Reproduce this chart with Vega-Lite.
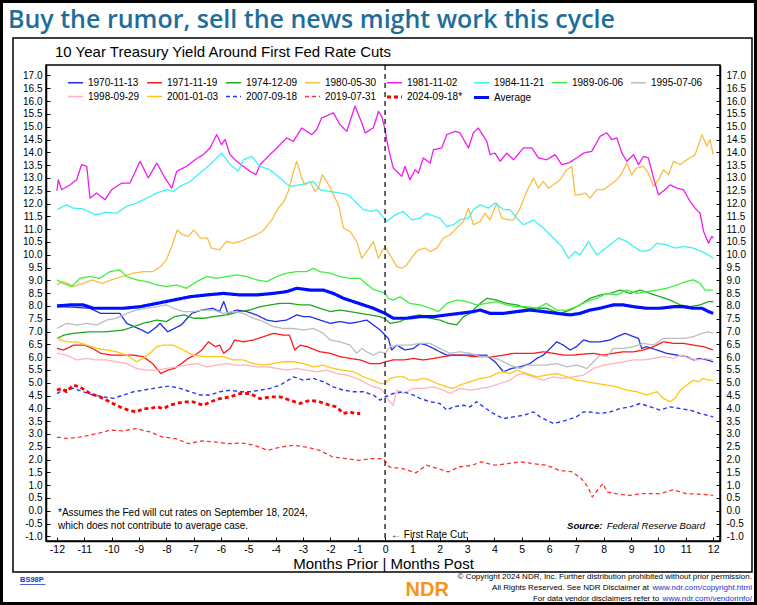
{
  "$schema": "https://vega.github.io/schema/vega-lite/v6.json",
  "width": 674,
  "height": 476,
  "autosize": {"type": "none"},
  "padding": {"left": 46, "top": 65, "right": 37, "bottom": 64},
  "background": "white",
  "config": {
    "font": "Liberation Sans",
    "view": {"stroke": "black", "strokeWidth": 1.5},
    "legend": {"orient": "none", "direction": "horizontal", "legendX": 20, "legendY": 9, "columns": 8, "symbolType": "stroke", "symbolSize": 225, "labelFontSize": 10, "labelFont": "Liberation Sans", "labelColor": "black", "columnPadding": 4, "rowPadding": -1, "labelOffset": 3, "padding": 0}
  },
  "resolve": {"axis": {"x": "independent", "y": "independent"}},
  "layer": [
    {
      "data": {"values": [
{"s":"1970-11-13","m":-12,"v":7.97},{"s":"1970-11-13","m":-11.4,"v":7.95},{"s":"1970-11-13","m":-10.8,"v":7.91},{"s":"1970-11-13","m":-10.4,"v":7.71},{"s":"1970-11-13","m":-9.7,"v":7.71},{"s":"1970-11-13","m":-9.45,"v":7.32},{"s":"1970-11-13","m":-8.9,"v":7.06},{"s":"1970-11-13","m":-8.67,"v":6.93},{"s":"1970-11-13","m":-8.35,"v":7.19},{"s":"1970-11-13","m":-8.23,"v":7.32},{"s":"1970-11-13","m":-7.95,"v":6.99},{"s":"1970-11-13","m":-7.45,"v":7.26},{"s":"1970-11-13","m":-7.07,"v":7.71},{"s":"1970-11-13","m":-6.7,"v":7.84},{"s":"1970-11-13","m":-6.3,"v":7.91},{"s":"1970-11-13","m":-6.05,"v":7.78},{"s":"1970-11-13","m":-5.9,"v":8.17},{"s":"1970-11-13","m":-5.75,"v":7.71},{"s":"1970-11-13","m":-5.43,"v":7.84},{"s":"1970-11-13","m":-5.06,"v":7.78},{"s":"1970-11-13","m":-4.7,"v":7.65},{"s":"1970-11-13","m":-4.33,"v":7.45},{"s":"1970-11-13","m":-4.0,"v":7.39},{"s":"1970-11-13","m":-3.6,"v":7.45},{"s":"1970-11-13","m":-3.23,"v":7.65},{"s":"1970-11-13","m":-2.98,"v":7.58},{"s":"1970-11-13","m":-2.74,"v":7.58},{"s":"1970-11-13","m":-2.38,"v":7.45},{"s":"1970-11-13","m":-2.0,"v":7.32},{"s":"1970-11-13","m":-1.65,"v":7.39},{"s":"1970-11-13","m":-1.28,"v":7.32},{"s":"1970-11-13","m":-0.91,"v":7.39},{"s":"1970-11-13","m":-0.67,"v":7.45},{"s":"1970-11-13","m":-0.43,"v":7.26},{"s":"1970-11-13","m":-0.18,"v":7.06},{"s":"1970-11-13","m":0,"v":6.86},{"s":"1970-11-13","m":0.12,"v":6.73},{"s":"1970-11-13","m":0.24,"v":6.28},{"s":"1970-11-13","m":0.43,"v":6.47},{"s":"1970-11-13","m":0.73,"v":6.28},{"s":"1970-11-13","m":1.04,"v":6.34},{"s":"1970-11-13","m":1.28,"v":6.54},{"s":"1970-11-13","m":1.52,"v":6.47},{"s":"1970-11-13","m":1.77,"v":6.34},{"s":"1970-11-13","m":2.0,"v":6.21},{"s":"1970-11-13","m":2.26,"v":6.08},{"s":"1970-11-13","m":2.62,"v":6.08},{"s":"1970-11-13","m":2.98,"v":6.08},{"s":"1970-11-13","m":3.35,"v":6.08},{"s":"1970-11-13","m":3.7,"v":6.08},{"s":"1970-11-13","m":4.02,"v":5.82},{"s":"1970-11-13","m":4.33,"v":5.43},{"s":"1970-11-13","m":4.63,"v":5.56},{"s":"1970-11-13","m":4.94,"v":5.62},{"s":"1970-11-13","m":5.3,"v":5.75},{"s":"1970-11-13","m":5.55,"v":5.95},{"s":"1970-11-13","m":5.79,"v":6.08},{"s":"1970-11-13","m":6.04,"v":6.34},{"s":"1970-11-13","m":6.28,"v":6.6},{"s":"1970-11-13","m":6.52,"v":6.47},{"s":"1970-11-13","m":6.77,"v":6.28},{"s":"1970-11-13","m":7.0,"v":6.41},{"s":"1970-11-13","m":7.26,"v":6.67},{"s":"1970-11-13","m":7.5,"v":6.6},{"s":"1970-11-13","m":7.87,"v":6.6},{"s":"1970-11-13","m":8.23,"v":6.67},{"s":"1970-11-13","m":8.48,"v":6.8},{"s":"1970-11-13","m":8.78,"v":6.93},{"s":"1970-11-13","m":9.09,"v":6.8},{"s":"1970-11-13","m":9.27,"v":6.73},{"s":"1970-11-13","m":9.39,"v":6.34},{"s":"1970-11-13","m":9.57,"v":6.41},{"s":"1970-11-13","m":9.94,"v":6.28},{"s":"1970-11-13","m":10.3,"v":6.15},{"s":"1970-11-13","m":10.67,"v":6.08},{"s":"1970-11-13","m":11.04,"v":6.02},{"s":"1970-11-13","m":11.28,"v":5.89},{"s":"1970-11-13","m":11.52,"v":5.95},{"s":"1970-11-13","m":11.77,"v":5.89},{"s":"1970-11-13","m":12,"v":5.82},
{"s":"1971-11-19","m":-12,"v":6.34},{"s":"1971-11-19","m":-11.75,"v":6.28},{"s":"1971-11-19","m":-11.4,"v":6.47},{"s":"1971-11-19","m":-11.0,"v":6.47},{"s":"1971-11-19","m":-10.7,"v":6.34},{"s":"1971-11-19","m":-10.4,"v":6.15},{"s":"1971-11-19","m":-10.0,"v":6.08},{"s":"1971-11-19","m":-9.57,"v":6.08},{"s":"1971-11-19","m":-9.2,"v":6.08},{"s":"1971-11-19","m":-8.85,"v":6.02},{"s":"1971-11-19","m":-8.5,"v":5.75},{"s":"1971-11-19","m":-8.2,"v":5.36},{"s":"1971-11-19","m":-7.95,"v":5.49},{"s":"1971-11-19","m":-7.7,"v":5.56},{"s":"1971-11-19","m":-7.45,"v":5.75},{"s":"1971-11-19","m":-7.2,"v":5.95},{"s":"1971-11-19","m":-6.95,"v":6.08},{"s":"1971-11-19","m":-6.7,"v":6.28},{"s":"1971-11-19","m":-6.46,"v":6.6},{"s":"1971-11-19","m":-6.2,"v":6.41},{"s":"1971-11-19","m":-6.05,"v":6.47},{"s":"1971-11-19","m":-5.9,"v":6.15},{"s":"1971-11-19","m":-5.67,"v":6.34},{"s":"1971-11-19","m":-5.5,"v":6.67},{"s":"1971-11-19","m":-5.18,"v":6.6},{"s":"1971-11-19","m":-4.82,"v":6.67},{"s":"1971-11-19","m":-4.45,"v":6.8},{"s":"1971-11-19","m":-4.08,"v":6.93},{"s":"1971-11-19","m":-3.72,"v":6.86},{"s":"1971-11-19","m":-3.5,"v":6.86},{"s":"1971-11-19","m":-3.3,"v":6.28},{"s":"1971-11-19","m":-3.1,"v":6.47},{"s":"1971-11-19","m":-2.85,"v":6.41},{"s":"1971-11-19","m":-2.38,"v":6.21},{"s":"1971-11-19","m":-2.0,"v":6.15},{"s":"1971-11-19","m":-1.65,"v":6.02},{"s":"1971-11-19","m":-1.28,"v":5.95},{"s":"1971-11-19","m":-0.91,"v":5.89},{"s":"1971-11-19","m":-0.55,"v":5.75},{"s":"1971-11-19","m":-0.18,"v":5.75},{"s":"1971-11-19","m":0,"v":5.82},{"s":"1971-11-19","m":0.3,"v":5.89},{"s":"1971-11-19","m":0.67,"v":5.89},{"s":"1971-11-19","m":1.04,"v":5.95},{"s":"1971-11-19","m":1.4,"v":5.89},{"s":"1971-11-19","m":1.77,"v":5.95},{"s":"1971-11-19","m":2.13,"v":6.02},{"s":"1971-11-19","m":2.5,"v":6.08},{"s":"1971-11-19","m":2.87,"v":6.08},{"s":"1971-11-19","m":3.23,"v":6.02},{"s":"1971-11-19","m":3.6,"v":6.02},{"s":"1971-11-19","m":3.96,"v":6.02},{"s":"1971-11-19","m":4.33,"v":6.08},{"s":"1971-11-19","m":4.7,"v":6.15},{"s":"1971-11-19","m":5.06,"v":6.15},{"s":"1971-11-19","m":5.43,"v":6.15},{"s":"1971-11-19","m":5.79,"v":6.21},{"s":"1971-11-19","m":6.16,"v":6.15},{"s":"1971-11-19","m":6.52,"v":6.08},{"s":"1971-11-19","m":6.89,"v":6.08},{"s":"1971-11-19","m":7.26,"v":6.12},{"s":"1971-11-19","m":7.62,"v":6.15},{"s":"1971-11-19","m":7.99,"v":6.08},{"s":"1971-11-19","m":8.35,"v":6.15},{"s":"1971-11-19","m":8.72,"v":6.21},{"s":"1971-11-19","m":9.09,"v":6.21},{"s":"1971-11-19","m":9.45,"v":6.28},{"s":"1971-11-19","m":9.82,"v":6.41},{"s":"1971-11-19","m":10.18,"v":6.6},{"s":"1971-11-19","m":10.55,"v":6.54},{"s":"1971-11-19","m":10.91,"v":6.54},{"s":"1971-11-19","m":11.28,"v":6.47},{"s":"1971-11-19","m":11.65,"v":6.41},{"s":"1971-11-19","m":12,"v":6.28},
{"s":"1974-12-09","m":-12,"v":6.73},{"s":"1974-12-09","m":-11.75,"v":6.86},{"s":"1974-12-09","m":-11.4,"v":6.93},{"s":"1974-12-09","m":-10.8,"v":6.99},{"s":"1974-12-09","m":-10.2,"v":6.99},{"s":"1974-12-09","m":-9.57,"v":7.06},{"s":"1974-12-09","m":-9.2,"v":7.19},{"s":"1974-12-09","m":-8.85,"v":7.32},{"s":"1974-12-09","m":-8.35,"v":7.45},{"s":"1974-12-09","m":-8.0,"v":7.39},{"s":"1974-12-09","m":-7.7,"v":7.58},{"s":"1974-12-09","m":-7.35,"v":7.65},{"s":"1974-12-09","m":-7.0,"v":7.52},{"s":"1974-12-09","m":-6.6,"v":7.52},{"s":"1974-12-09","m":-6.3,"v":7.58},{"s":"1974-12-09","m":-5.8,"v":7.65},{"s":"1974-12-09","m":-5.3,"v":7.78},{"s":"1974-12-09","m":-4.95,"v":7.84},{"s":"1974-12-09","m":-4.57,"v":7.97},{"s":"1974-12-09","m":-4.2,"v":8.04},{"s":"1974-12-09","m":-3.84,"v":8.1},{"s":"1974-12-09","m":-3.47,"v":8.1},{"s":"1974-12-09","m":-3.11,"v":8.04},{"s":"1974-12-09","m":-2.74,"v":8.04},{"s":"1974-12-09","m":-2.38,"v":7.91},{"s":"1974-12-09","m":-2.0,"v":7.78},{"s":"1974-12-09","m":-1.65,"v":7.84},{"s":"1974-12-09","m":-1.28,"v":7.78},{"s":"1974-12-09","m":-0.91,"v":7.71},{"s":"1974-12-09","m":-0.55,"v":7.65},{"s":"1974-12-09","m":-0.18,"v":7.58},{"s":"1974-12-09","m":0,"v":7.5},{"s":"1974-12-09","m":0.18,"v":7.32},{"s":"1974-12-09","m":0.55,"v":7.39},{"s":"1974-12-09","m":0.9,"v":7.58},{"s":"1974-12-09","m":1.28,"v":7.65},{"s":"1974-12-09","m":1.65,"v":7.52},{"s":"1974-12-09","m":2.0,"v":7.45},{"s":"1974-12-09","m":2.32,"v":7.32},{"s":"1974-12-09","m":2.62,"v":7.26},{"s":"1974-12-09","m":2.87,"v":7.58},{"s":"1974-12-09","m":3.11,"v":7.71},{"s":"1974-12-09","m":3.48,"v":8.1},{"s":"1974-12-09","m":3.72,"v":8.3},{"s":"1974-12-09","m":4.08,"v":8.23},{"s":"1974-12-09","m":4.45,"v":8.1},{"s":"1974-12-09","m":4.82,"v":8.04},{"s":"1974-12-09","m":5.18,"v":7.91},{"s":"1974-12-09","m":5.55,"v":7.91},{"s":"1974-12-09","m":5.9,"v":7.91},{"s":"1974-12-09","m":6.4,"v":7.71},{"s":"1974-12-09","m":6.77,"v":7.84},{"s":"1974-12-09","m":7.13,"v":8.04},{"s":"1974-12-09","m":7.5,"v":8.3},{"s":"1974-12-09","m":7.87,"v":8.43},{"s":"1974-12-09","m":8.23,"v":8.49},{"s":"1974-12-09","m":8.6,"v":8.62},{"s":"1974-12-09","m":8.96,"v":8.49},{"s":"1974-12-09","m":9.33,"v":8.62},{"s":"1974-12-09","m":9.7,"v":8.49},{"s":"1974-12-09","m":10.06,"v":8.36},{"s":"1974-12-09","m":10.43,"v":8.23},{"s":"1974-12-09","m":10.8,"v":8.04},{"s":"1974-12-09","m":11.16,"v":7.97},{"s":"1974-12-09","m":11.52,"v":8.04},{"s":"1974-12-09","m":11.83,"v":8.17},{"s":"1974-12-09","m":12,"v":8.17},
{"s":"1980-05-30","m":-12,"v":8.82},{"s":"1980-05-30","m":-11.8,"v":8.95},{"s":"1980-05-30","m":-11.6,"v":8.88},{"s":"1980-05-30","m":-11.4,"v":8.76},{"s":"1980-05-30","m":-11.05,"v":8.88},{"s":"1980-05-30","m":-10.7,"v":9.02},{"s":"1980-05-30","m":-10.35,"v":8.88},{"s":"1980-05-30","m":-10.0,"v":9.02},{"s":"1980-05-30","m":-9.6,"v":9.15},{"s":"1980-05-30","m":-9.2,"v":9.28},{"s":"1980-05-30","m":-8.85,"v":9.34},{"s":"1980-05-30","m":-8.5,"v":9.34},{"s":"1980-05-30","m":-8.2,"v":9.54},{"s":"1980-05-30","m":-8.0,"v":9.8},{"s":"1980-05-30","m":-7.8,"v":10.32},{"s":"1980-05-30","m":-7.6,"v":10.97},{"s":"1980-05-30","m":-7.4,"v":10.78},{"s":"1980-05-30","m":-7.2,"v":10.71},{"s":"1980-05-30","m":-7.0,"v":10.97},{"s":"1980-05-30","m":-6.75,"v":10.65},{"s":"1980-05-30","m":-6.5,"v":10.65},{"s":"1980-05-30","m":-6.35,"v":10.26},{"s":"1980-05-30","m":-6.05,"v":10.19},{"s":"1980-05-30","m":-5.8,"v":10.52},{"s":"1980-05-30","m":-5.55,"v":10.45},{"s":"1980-05-30","m":-5.3,"v":10.52},{"s":"1980-05-30","m":-5.0,"v":10.65},{"s":"1980-05-30","m":-4.7,"v":10.78},{"s":"1980-05-30","m":-4.5,"v":10.91},{"s":"1980-05-30","m":-4.33,"v":11.1},{"s":"1980-05-30","m":-4.1,"v":11.43},{"s":"1980-05-30","m":-3.9,"v":11.82},{"s":"1980-05-30","m":-3.7,"v":12.08},{"s":"1980-05-30","m":-3.54,"v":12.47},{"s":"1980-05-30","m":-3.35,"v":13.26},{"s":"1980-05-30","m":-3.23,"v":13.65},{"s":"1980-05-30","m":-3.05,"v":13.0},{"s":"1980-05-30","m":-2.93,"v":12.73},{"s":"1980-05-30","m":-2.74,"v":12.86},{"s":"1980-05-30","m":-2.56,"v":12.47},{"s":"1980-05-30","m":-2.44,"v":12.6},{"s":"1980-05-30","m":-2.3,"v":13.13},{"s":"1980-05-30","m":-2.17,"v":12.93},{"s":"1980-05-30","m":-2.0,"v":12.6},{"s":"1980-05-30","m":-1.83,"v":12.21},{"s":"1980-05-30","m":-1.7,"v":11.95},{"s":"1980-05-30","m":-1.52,"v":11.04},{"s":"1980-05-30","m":-1.28,"v":10.91},{"s":"1980-05-30","m":-1.04,"v":10.52},{"s":"1980-05-30","m":-0.85,"v":9.86},{"s":"1980-05-30","m":-0.67,"v":10.12},{"s":"1980-05-30","m":-0.43,"v":10.52},{"s":"1980-05-30","m":-0.24,"v":9.86},{"s":"1980-05-30","m":-0.12,"v":10.12},{"s":"1980-05-30","m":0,"v":10.32},{"s":"1980-05-30","m":0.18,"v":9.99},{"s":"1980-05-30","m":0.43,"v":9.54},{"s":"1980-05-30","m":0.61,"v":9.47},{"s":"1980-05-30","m":0.79,"v":9.6},{"s":"1980-05-30","m":1.04,"v":9.99},{"s":"1980-05-30","m":1.22,"v":10.19},{"s":"1980-05-30","m":1.46,"v":10.26},{"s":"1980-05-30","m":1.65,"v":10.12},{"s":"1980-05-30","m":1.89,"v":10.26},{"s":"1980-05-30","m":2.13,"v":10.65},{"s":"1980-05-30","m":2.38,"v":10.78},{"s":"1980-05-30","m":2.62,"v":11.04},{"s":"1980-05-30","m":2.87,"v":11.3},{"s":"1980-05-30","m":3.05,"v":11.82},{"s":"1980-05-30","m":3.23,"v":11.17},{"s":"1980-05-30","m":3.48,"v":11.3},{"s":"1980-05-30","m":3.66,"v":11.62},{"s":"1980-05-30","m":3.84,"v":11.36},{"s":"1980-05-30","m":4.08,"v":12.02},{"s":"1980-05-30","m":4.27,"v":11.43},{"s":"1980-05-30","m":4.51,"v":11.36},{"s":"1980-05-30","m":4.7,"v":11.36},{"s":"1980-05-30","m":4.94,"v":11.82},{"s":"1980-05-30","m":5.18,"v":12.47},{"s":"1980-05-30","m":5.43,"v":12.99},{"s":"1980-05-30","m":5.61,"v":12.6},{"s":"1980-05-30","m":5.79,"v":12.86},{"s":"1980-05-30","m":5.98,"v":12.6},{"s":"1980-05-30","m":6.16,"v":12.73},{"s":"1980-05-30","m":6.4,"v":12.93},{"s":"1980-05-30","m":6.65,"v":13.32},{"s":"1980-05-30","m":6.83,"v":13.45},{"s":"1980-05-30","m":6.95,"v":12.34},{"s":"1980-05-30","m":7.13,"v":12.34},{"s":"1980-05-30","m":7.32,"v":12.41},{"s":"1980-05-30","m":7.5,"v":12.21},{"s":"1980-05-30","m":7.74,"v":12.54},{"s":"1980-05-30","m":7.99,"v":12.54},{"s":"1980-05-30","m":8.23,"v":12.73},{"s":"1980-05-30","m":8.48,"v":12.93},{"s":"1980-05-30","m":8.66,"v":13.19},{"s":"1980-05-30","m":8.84,"v":13.58},{"s":"1980-05-30","m":9.02,"v":13.13},{"s":"1980-05-30","m":9.2,"v":13.39},{"s":"1980-05-30","m":9.45,"v":13.45},{"s":"1980-05-30","m":9.63,"v":13.19},{"s":"1980-05-30","m":9.82,"v":12.67},{"s":"1980-05-30","m":10.0,"v":12.93},{"s":"1980-05-30","m":10.18,"v":13.32},{"s":"1980-05-30","m":10.37,"v":13.13},{"s":"1980-05-30","m":10.55,"v":13.65},{"s":"1980-05-30","m":10.79,"v":13.52},{"s":"1980-05-30","m":11.04,"v":13.71},{"s":"1980-05-30","m":11.34,"v":13.91},{"s":"1980-05-30","m":11.59,"v":14.69},{"s":"1980-05-30","m":11.77,"v":14.24},{"s":"1980-05-30","m":11.89,"v":14.5},{"s":"1980-05-30","m":12,"v":13.91},
{"s":"1981-11-02","m":-12,"v":12.5},{"s":"1981-11-02","m":-11.95,"v":12.93},{"s":"1981-11-02","m":-11.83,"v":12.54},{"s":"1981-11-02","m":-11.52,"v":12.73},{"s":"1981-11-02","m":-11.28,"v":12.93},{"s":"1981-11-02","m":-11.1,"v":13.52},{"s":"1981-11-02","m":-10.91,"v":13.45},{"s":"1981-11-02","m":-10.79,"v":12.21},{"s":"1981-11-02","m":-10.55,"v":12.41},{"s":"1981-11-02","m":-10.24,"v":12.15},{"s":"1981-11-02","m":-10.0,"v":12.54},{"s":"1981-11-02","m":-9.63,"v":12.8},{"s":"1981-11-02","m":-9.33,"v":12.8},{"s":"1981-11-02","m":-8.96,"v":13.65},{"s":"1981-11-02","m":-8.66,"v":13.0},{"s":"1981-11-02","m":-8.35,"v":13.58},{"s":"1981-11-02","m":-8.05,"v":13.0},{"s":"1981-11-02","m":-7.8,"v":12.6},{"s":"1981-11-02","m":-7.62,"v":13.26},{"s":"1981-11-02","m":-7.26,"v":13.45},{"s":"1981-11-02","m":-6.95,"v":13.71},{"s":"1981-11-02","m":-6.65,"v":13.91},{"s":"1981-11-02","m":-6.4,"v":14.17},{"s":"1981-11-02","m":-6.16,"v":14.69},{"s":"1981-11-02","m":-5.98,"v":14.3},{"s":"1981-11-02","m":-5.85,"v":14.5},{"s":"1981-11-02","m":-5.67,"v":13.91},{"s":"1981-11-02","m":-5.43,"v":13.65},{"s":"1981-11-02","m":-5.18,"v":13.45},{"s":"1981-11-02","m":-4.94,"v":13.26},{"s":"1981-11-02","m":-4.72,"v":13.13},{"s":"1981-11-02","m":-4.57,"v":13.52},{"s":"1981-11-02","m":-4.21,"v":13.91},{"s":"1981-11-02","m":-3.96,"v":14.17},{"s":"1981-11-02","m":-3.6,"v":14.56},{"s":"1981-11-02","m":-3.35,"v":14.43},{"s":"1981-11-02","m":-3.05,"v":14.95},{"s":"1981-11-02","m":-2.87,"v":14.82},{"s":"1981-11-02","m":-2.68,"v":14.69},{"s":"1981-11-02","m":-2.5,"v":14.89},{"s":"1981-11-02","m":-2.32,"v":15.34},{"s":"1981-11-02","m":-1.89,"v":15.54},{"s":"1981-11-02","m":-1.65,"v":15.08},{"s":"1981-11-02","m":-1.4,"v":14.82},{"s":"1981-11-02","m":-1.1,"v":15.8},{"s":"1981-11-02","m":-0.85,"v":15.15},{"s":"1981-11-02","m":-0.73,"v":14.76},{"s":"1981-11-02","m":-0.43,"v":14.95},{"s":"1981-11-02","m":-0.24,"v":15.6},{"s":"1981-11-02","m":-0.12,"v":15.4},{"s":"1981-11-02","m":0,"v":14.9},{"s":"1981-11-02","m":0.06,"v":14.5},{"s":"1981-11-02","m":0.12,"v":14.17},{"s":"1981-11-02","m":0.3,"v":13.39},{"s":"1981-11-02","m":0.61,"v":13.06},{"s":"1981-11-02","m":0.73,"v":13.45},{"s":"1981-11-02","m":0.91,"v":12.93},{"s":"1981-11-02","m":1.1,"v":13.32},{"s":"1981-11-02","m":1.22,"v":13.19},{"s":"1981-11-02","m":1.4,"v":13.78},{"s":"1981-11-02","m":1.65,"v":13.58},{"s":"1981-11-02","m":1.77,"v":14.1},{"s":"1981-11-02","m":2.07,"v":14.17},{"s":"1981-11-02","m":2.26,"v":14.69},{"s":"1981-11-02","m":2.56,"v":14.82},{"s":"1981-11-02","m":2.74,"v":14.76},{"s":"1981-11-02","m":3.05,"v":14.17},{"s":"1981-11-02","m":3.23,"v":14.76},{"s":"1981-11-02","m":3.41,"v":14.95},{"s":"1981-11-02","m":3.72,"v":14.43},{"s":"1981-11-02","m":3.84,"v":13.91},{"s":"1981-11-02","m":4.02,"v":13.97},{"s":"1981-11-02","m":4.21,"v":13.65},{"s":"1981-11-02","m":4.45,"v":13.97},{"s":"1981-11-02","m":4.7,"v":13.71},{"s":"1981-11-02","m":5.06,"v":14.17},{"s":"1981-11-02","m":5.37,"v":14.17},{"s":"1981-11-02","m":5.61,"v":13.78},{"s":"1981-11-02","m":5.91,"v":13.71},{"s":"1981-11-02","m":6.22,"v":13.91},{"s":"1981-11-02","m":6.46,"v":13.52},{"s":"1981-11-02","m":6.71,"v":13.58},{"s":"1981-11-02","m":7.01,"v":13.78},{"s":"1981-11-02","m":7.26,"v":13.97},{"s":"1981-11-02","m":7.56,"v":14.04},{"s":"1981-11-02","m":7.87,"v":14.63},{"s":"1981-11-02","m":8.11,"v":14.76},{"s":"1981-11-02","m":8.29,"v":14.5},{"s":"1981-11-02","m":8.48,"v":14.56},{"s":"1981-11-02","m":8.66,"v":13.97},{"s":"1981-11-02","m":8.84,"v":13.65},{"s":"1981-11-02","m":9.09,"v":13.91},{"s":"1981-11-02","m":9.27,"v":13.52},{"s":"1981-11-02","m":9.45,"v":13.84},{"s":"1981-11-02","m":9.63,"v":13.78},{"s":"1981-11-02","m":9.82,"v":12.99},{"s":"1981-11-02","m":10.0,"v":12.34},{"s":"1981-11-02","m":10.24,"v":12.54},{"s":"1981-11-02","m":10.43,"v":12.73},{"s":"1981-11-02","m":10.67,"v":12.6},{"s":"1981-11-02","m":10.91,"v":12.54},{"s":"1981-11-02","m":11.16,"v":12.08},{"s":"1981-11-02","m":11.34,"v":11.82},{"s":"1981-11-02","m":11.52,"v":11.62},{"s":"1981-11-02","m":11.65,"v":10.91},{"s":"1981-11-02","m":11.83,"v":10.45},{"s":"1981-11-02","m":11.95,"v":10.71},{"s":"1981-11-02","m":12,"v":10.65},
{"s":"1984-11-21","m":-12,"v":11.76},{"s":"1984-11-21","m":-11.65,"v":11.95},{"s":"1984-11-21","m":-11.4,"v":11.82},{"s":"1984-11-21","m":-11.04,"v":11.79},{"s":"1984-11-21","m":-10.6,"v":11.56},{"s":"1984-11-21","m":-10.2,"v":11.66},{"s":"1984-11-21","m":-9.82,"v":11.62},{"s":"1984-11-21","m":-9.45,"v":11.89},{"s":"1984-11-21","m":-9.08,"v":12.02},{"s":"1984-11-21","m":-8.72,"v":12.21},{"s":"1984-11-21","m":-8.35,"v":12.41},{"s":"1984-11-21","m":-7.99,"v":12.54},{"s":"1984-11-21","m":-7.74,"v":12.47},{"s":"1984-11-21","m":-7.5,"v":12.67},{"s":"1984-11-21","m":-7.13,"v":12.86},{"s":"1984-11-21","m":-6.77,"v":13.19},{"s":"1984-11-21","m":-6.4,"v":13.52},{"s":"1984-11-21","m":-5.98,"v":13.97},{"s":"1984-11-21","m":-5.67,"v":13.52},{"s":"1984-11-21","m":-5.37,"v":13.26},{"s":"1984-11-21","m":-5.18,"v":13.71},{"s":"1984-11-21","m":-4.88,"v":13.84},{"s":"1984-11-21","m":-4.57,"v":13.45},{"s":"1984-11-21","m":-4.21,"v":13.32},{"s":"1984-11-21","m":-3.84,"v":12.99},{"s":"1984-11-21","m":-3.48,"v":12.67},{"s":"1984-11-21","m":-3.11,"v":12.73},{"s":"1984-11-21","m":-2.87,"v":12.8},{"s":"1984-11-21","m":-2.62,"v":12.86},{"s":"1984-11-21","m":-2.38,"v":12.54},{"s":"1984-11-21","m":-2.01,"v":12.47},{"s":"1984-11-21","m":-1.65,"v":12.41},{"s":"1984-11-21","m":-1.34,"v":12.34},{"s":"1984-11-21","m":-1.04,"v":12.02},{"s":"1984-11-21","m":-0.79,"v":11.76},{"s":"1984-11-21","m":-0.49,"v":11.69},{"s":"1984-11-21","m":-0.3,"v":11.76},{"s":"1984-11-21","m":0,"v":11.37},{"s":"1984-11-21","m":0.06,"v":11.3},{"s":"1984-11-21","m":0.37,"v":11.56},{"s":"1984-11-21","m":0.67,"v":11.69},{"s":"1984-11-21","m":0.98,"v":11.36},{"s":"1984-11-21","m":1.28,"v":11.43},{"s":"1984-11-21","m":1.52,"v":11.62},{"s":"1984-11-21","m":1.83,"v":11.49},{"s":"1984-11-21","m":2.0,"v":11.43},{"s":"1984-11-21","m":2.26,"v":11.1},{"s":"1984-11-21","m":2.5,"v":11.17},{"s":"1984-11-21","m":2.74,"v":11.36},{"s":"1984-11-21","m":3.05,"v":11.43},{"s":"1984-11-21","m":3.23,"v":11.76},{"s":"1984-11-21","m":3.48,"v":11.95},{"s":"1984-11-21","m":3.78,"v":11.82},{"s":"1984-11-21","m":4.02,"v":12.02},{"s":"1984-11-21","m":4.33,"v":11.76},{"s":"1984-11-21","m":4.57,"v":11.76},{"s":"1984-11-21","m":4.82,"v":11.43},{"s":"1984-11-21","m":5.06,"v":11.17},{"s":"1984-11-21","m":5.43,"v":11.36},{"s":"1984-11-21","m":5.79,"v":11.04},{"s":"1984-11-21","m":6.16,"v":10.65},{"s":"1984-11-21","m":6.46,"v":10.32},{"s":"1984-11-21","m":6.71,"v":9.86},{"s":"1984-11-21","m":6.95,"v":10.12},{"s":"1984-11-21","m":7.13,"v":9.99},{"s":"1984-11-21","m":7.44,"v":10.52},{"s":"1984-11-21","m":7.74,"v":9.99},{"s":"1984-11-21","m":7.99,"v":10.19},{"s":"1984-11-21","m":8.23,"v":10.39},{"s":"1984-11-21","m":8.54,"v":10.65},{"s":"1984-11-21","m":8.84,"v":10.52},{"s":"1984-11-21","m":9.09,"v":10.32},{"s":"1984-11-21","m":9.39,"v":10.12},{"s":"1984-11-21","m":9.7,"v":10.19},{"s":"1984-11-21","m":9.94,"v":10.45},{"s":"1984-11-21","m":10.3,"v":10.39},{"s":"1984-11-21","m":10.61,"v":10.26},{"s":"1984-11-21","m":10.91,"v":10.32},{"s":"1984-11-21","m":11.28,"v":10.26},{"s":"1984-11-21","m":11.59,"v":10.12},{"s":"1984-11-21","m":11.83,"v":9.99},{"s":"1984-11-21","m":12,"v":9.86},
{"s":"1989-06-06","m":-12,"v":9.02},{"s":"1989-06-06","m":-11.77,"v":8.88},{"s":"1989-06-06","m":-11.46,"v":8.76},{"s":"1989-06-06","m":-11.16,"v":9.08},{"s":"1989-06-06","m":-10.79,"v":9.15},{"s":"1989-06-06","m":-10.43,"v":9.08},{"s":"1989-06-06","m":-10.06,"v":9.34},{"s":"1989-06-06","m":-9.7,"v":9.41},{"s":"1989-06-06","m":-9.45,"v":9.15},{"s":"1989-06-06","m":-9.09,"v":9.02},{"s":"1989-06-06","m":-8.72,"v":8.95},{"s":"1989-06-06","m":-8.35,"v":8.82},{"s":"1989-06-06","m":-7.99,"v":8.76},{"s":"1989-06-06","m":-7.62,"v":8.82},{"s":"1989-06-06","m":-7.26,"v":8.69},{"s":"1989-06-06","m":-6.89,"v":8.95},{"s":"1989-06-06","m":-6.52,"v":9.15},{"s":"1989-06-06","m":-6.16,"v":9.08},{"s":"1989-06-06","m":-5.79,"v":9.15},{"s":"1989-06-06","m":-5.43,"v":9.21},{"s":"1989-06-06","m":-5.06,"v":9.15},{"s":"1989-06-06","m":-4.7,"v":9.02},{"s":"1989-06-06","m":-4.33,"v":8.95},{"s":"1989-06-06","m":-3.96,"v":9.15},{"s":"1989-06-06","m":-3.6,"v":9.28},{"s":"1989-06-06","m":-3.23,"v":9.34},{"s":"1989-06-06","m":-2.87,"v":9.34},{"s":"1989-06-06","m":-2.62,"v":9.47},{"s":"1989-06-06","m":-2.38,"v":9.34},{"s":"1989-06-06","m":-2.01,"v":9.28},{"s":"1989-06-06","m":-1.65,"v":9.15},{"s":"1989-06-06","m":-1.28,"v":9.08},{"s":"1989-06-06","m":-0.91,"v":9.08},{"s":"1989-06-06","m":-0.73,"v":8.9},{"s":"1989-06-06","m":-0.43,"v":8.65},{"s":"1989-06-06","m":-0.18,"v":8.56},{"s":"1989-06-06","m":0,"v":8.49},{"s":"1989-06-06","m":0.12,"v":8.3},{"s":"1989-06-06","m":0.3,"v":8.23},{"s":"1989-06-06","m":0.55,"v":8.36},{"s":"1989-06-06","m":0.9,"v":8.1},{"s":"1989-06-06","m":1.28,"v":8.04},{"s":"1989-06-06","m":1.65,"v":7.91},{"s":"1989-06-06","m":1.95,"v":7.78},{"s":"1989-06-06","m":2.26,"v":8.1},{"s":"1989-06-06","m":2.62,"v":8.23},{"s":"1989-06-06","m":2.98,"v":8.17},{"s":"1989-06-06","m":3.35,"v":8.04},{"s":"1989-06-06","m":3.72,"v":8.1},{"s":"1989-06-06","m":4.08,"v":8.17},{"s":"1989-06-06","m":4.45,"v":8.04},{"s":"1989-06-06","m":4.82,"v":7.97},{"s":"1989-06-06","m":5.18,"v":7.97},{"s":"1989-06-06","m":5.55,"v":7.91},{"s":"1989-06-06","m":5.9,"v":8.1},{"s":"1989-06-06","m":6.28,"v":7.84},{"s":"1989-06-06","m":6.65,"v":7.84},{"s":"1989-06-06","m":7.0,"v":7.97},{"s":"1989-06-06","m":7.38,"v":8.17},{"s":"1989-06-06","m":7.74,"v":8.3},{"s":"1989-06-06","m":8.11,"v":8.49},{"s":"1989-06-06","m":8.48,"v":8.43},{"s":"1989-06-06","m":8.84,"v":8.62},{"s":"1989-06-06","m":9.2,"v":8.49},{"s":"1989-06-06","m":9.57,"v":8.56},{"s":"1989-06-06","m":9.94,"v":8.62},{"s":"1989-06-06","m":10.3,"v":8.69},{"s":"1989-06-06","m":10.67,"v":8.82},{"s":"1989-06-06","m":11.0,"v":8.95},{"s":"1989-06-06","m":11.28,"v":9.02},{"s":"1989-06-06","m":11.52,"v":8.88},{"s":"1989-06-06","m":11.7,"v":8.62},{"s":"1989-06-06","m":12,"v":8.62},
{"s":"1995-07-06","m":-12,"v":7.12},{"s":"1995-07-06","m":-11.65,"v":7.32},{"s":"1995-07-06","m":-11.28,"v":7.25},{"s":"1995-07-06","m":-10.91,"v":7.32},{"s":"1995-07-06","m":-10.55,"v":7.25},{"s":"1995-07-06","m":-10.18,"v":7.45},{"s":"1995-07-06","m":-9.82,"v":7.52},{"s":"1995-07-06","m":-9.45,"v":7.71},{"s":"1995-07-06","m":-9.09,"v":7.84},{"s":"1995-07-06","m":-8.72,"v":7.91},{"s":"1995-07-06","m":-8.35,"v":7.97},{"s":"1995-07-06","m":-7.99,"v":8.04},{"s":"1995-07-06","m":-7.74,"v":7.91},{"s":"1995-07-06","m":-7.38,"v":7.78},{"s":"1995-07-06","m":-7.01,"v":7.78},{"s":"1995-07-06","m":-6.65,"v":7.84},{"s":"1995-07-06","m":-6.28,"v":7.84},{"s":"1995-07-06","m":-5.91,"v":7.71},{"s":"1995-07-06","m":-5.55,"v":7.78},{"s":"1995-07-06","m":-5.18,"v":7.71},{"s":"1995-07-06","m":-4.82,"v":7.52},{"s":"1995-07-06","m":-4.45,"v":7.39},{"s":"1995-07-06","m":-4.09,"v":7.19},{"s":"1995-07-06","m":-3.72,"v":7.12},{"s":"1995-07-06","m":-3.35,"v":7.12},{"s":"1995-07-06","m":-2.99,"v":7.06},{"s":"1995-07-06","m":-2.62,"v":7.12},{"s":"1995-07-06","m":-2.26,"v":6.93},{"s":"1995-07-06","m":-2.01,"v":6.67},{"s":"1995-07-06","m":-1.65,"v":6.6},{"s":"1995-07-06","m":-1.28,"v":6.47},{"s":"1995-07-06","m":-1.04,"v":6.15},{"s":"1995-07-06","m":-0.85,"v":6.34},{"s":"1995-07-06","m":-0.67,"v":6.21},{"s":"1995-07-06","m":-0.43,"v":6.08},{"s":"1995-07-06","m":-0.18,"v":6.21},{"s":"1995-07-06","m":0,"v":6.15},{"s":"1995-07-06","m":0.18,"v":6.41},{"s":"1995-07-06","m":0.55,"v":6.47},{"s":"1995-07-06","m":0.9,"v":6.47},{"s":"1995-07-06","m":1.28,"v":6.54},{"s":"1995-07-06","m":1.65,"v":6.54},{"s":"1995-07-06","m":2.0,"v":6.34},{"s":"1995-07-06","m":2.38,"v":6.15},{"s":"1995-07-06","m":2.74,"v":6.21},{"s":"1995-07-06","m":3.11,"v":6.15},{"s":"1995-07-06","m":3.48,"v":6.02},{"s":"1995-07-06","m":3.84,"v":6.02},{"s":"1995-07-06","m":4.2,"v":5.89},{"s":"1995-07-06","m":4.57,"v":5.69},{"s":"1995-07-06","m":4.94,"v":5.56},{"s":"1995-07-06","m":5.18,"v":5.69},{"s":"1995-07-06","m":5.55,"v":5.69},{"s":"1995-07-06","m":5.9,"v":5.69},{"s":"1995-07-06","m":6.28,"v":5.75},{"s":"1995-07-06","m":6.65,"v":5.62},{"s":"1995-07-06","m":7.0,"v":5.69},{"s":"1995-07-06","m":7.38,"v":5.56},{"s":"1995-07-06","m":7.62,"v":5.82},{"s":"1995-07-06","m":7.87,"v":6.08},{"s":"1995-07-06","m":8.11,"v":6.02},{"s":"1995-07-06","m":8.35,"v":6.34},{"s":"1995-07-06","m":8.72,"v":6.34},{"s":"1995-07-06","m":9.09,"v":6.41},{"s":"1995-07-06","m":9.45,"v":6.54},{"s":"1995-07-06","m":9.82,"v":6.47},{"s":"1995-07-06","m":10.18,"v":6.73},{"s":"1995-07-06","m":10.55,"v":6.73},{"s":"1995-07-06","m":10.91,"v":6.73},{"s":"1995-07-06","m":11.28,"v":6.8},{"s":"1995-07-06","m":11.59,"v":6.93},{"s":"1995-07-06","m":11.83,"v":6.99},{"s":"1995-07-06","m":12,"v":6.93},
{"s":"1998-09-29","m":-12,"v":6.15},{"s":"1998-09-29","m":-11.65,"v":6.08},{"s":"1998-09-29","m":-11.28,"v":5.89},{"s":"1998-09-29","m":-10.91,"v":5.95},{"s":"1998-09-29","m":-10.55,"v":5.89},{"s":"1998-09-29","m":-10.18,"v":5.89},{"s":"1998-09-29","m":-9.82,"v":5.82},{"s":"1998-09-29","m":-9.45,"v":5.75},{"s":"1998-09-29","m":-9.09,"v":5.56},{"s":"1998-09-29","m":-8.72,"v":5.49},{"s":"1998-09-29","m":-8.35,"v":5.49},{"s":"1998-09-29","m":-7.99,"v":5.56},{"s":"1998-09-29","m":-7.62,"v":5.62},{"s":"1998-09-29","m":-7.26,"v":5.69},{"s":"1998-09-29","m":-6.89,"v":5.75},{"s":"1998-09-29","m":-6.52,"v":5.62},{"s":"1998-09-29","m":-6.16,"v":5.69},{"s":"1998-09-29","m":-5.79,"v":5.75},{"s":"1998-09-29","m":-5.43,"v":5.69},{"s":"1998-09-29","m":-5.06,"v":5.69},{"s":"1998-09-29","m":-4.7,"v":5.62},{"s":"1998-09-29","m":-4.33,"v":5.62},{"s":"1998-09-29","m":-3.96,"v":5.56},{"s":"1998-09-29","m":-3.6,"v":5.49},{"s":"1998-09-29","m":-3.23,"v":5.56},{"s":"1998-09-29","m":-2.87,"v":5.49},{"s":"1998-09-29","m":-2.5,"v":5.43},{"s":"1998-09-29","m":-2.13,"v":5.49},{"s":"1998-09-29","m":-1.77,"v":5.36},{"s":"1998-09-29","m":-1.4,"v":5.3},{"s":"1998-09-29","m":-1.04,"v":5.17},{"s":"1998-09-29","m":-0.67,"v":4.97},{"s":"1998-09-29","m":-0.43,"v":4.84},{"s":"1998-09-29","m":-0.18,"v":4.78},{"s":"1998-09-29","m":0,"v":4.58},{"s":"1998-09-29","m":0.12,"v":4.32},{"s":"1998-09-29","m":0.3,"v":4.12},{"s":"1998-09-29","m":0.43,"v":4.71},{"s":"1998-09-29","m":0.67,"v":4.58},{"s":"1998-09-29","m":1.04,"v":4.78},{"s":"1998-09-29","m":1.4,"v":4.78},{"s":"1998-09-29","m":1.77,"v":4.84},{"s":"1998-09-29","m":2.13,"v":4.71},{"s":"1998-09-29","m":2.38,"v":4.58},{"s":"1998-09-29","m":2.74,"v":4.78},{"s":"1998-09-29","m":3.11,"v":4.71},{"s":"1998-09-29","m":3.48,"v":4.78},{"s":"1998-09-29","m":3.84,"v":4.84},{"s":"1998-09-29","m":4.2,"v":4.97},{"s":"1998-09-29","m":4.57,"v":5.1},{"s":"1998-09-29","m":4.82,"v":5.3},{"s":"1998-09-29","m":5.06,"v":5.36},{"s":"1998-09-29","m":5.43,"v":5.23},{"s":"1998-09-29","m":5.79,"v":5.1},{"s":"1998-09-29","m":6.16,"v":5.23},{"s":"1998-09-29","m":6.52,"v":5.17},{"s":"1998-09-29","m":6.89,"v":5.23},{"s":"1998-09-29","m":7.26,"v":5.3},{"s":"1998-09-29","m":7.62,"v":5.56},{"s":"1998-09-29","m":7.99,"v":5.69},{"s":"1998-09-29","m":8.35,"v":5.75},{"s":"1998-09-29","m":8.72,"v":5.82},{"s":"1998-09-29","m":9.09,"v":5.89},{"s":"1998-09-29","m":9.45,"v":5.89},{"s":"1998-09-29","m":9.82,"v":5.95},{"s":"1998-09-29","m":10.18,"v":6.02},{"s":"1998-09-29","m":10.55,"v":5.95},{"s":"1998-09-29","m":10.8,"v":6.08},{"s":"1998-09-29","m":11.16,"v":5.95},{"s":"1998-09-29","m":11.4,"v":5.89},{"s":"1998-09-29","m":11.7,"v":5.95},{"s":"1998-09-29","m":12,"v":5.89},
{"s":"2001-01-03","m":-12,"v":6.73},{"s":"2001-01-03","m":-11.65,"v":6.6},{"s":"2001-01-03","m":-11.28,"v":6.6},{"s":"2001-01-03","m":-10.91,"v":6.47},{"s":"2001-01-03","m":-10.55,"v":6.34},{"s":"2001-01-03","m":-10.18,"v":6.28},{"s":"2001-01-03","m":-9.82,"v":6.21},{"s":"2001-01-03","m":-9.45,"v":6.08},{"s":"2001-01-03","m":-9.09,"v":5.82},{"s":"2001-01-03","m":-8.85,"v":5.95},{"s":"2001-01-03","m":-8.6,"v":6.15},{"s":"2001-01-03","m":-8.35,"v":6.41},{"s":"2001-01-03","m":-8.1,"v":6.47},{"s":"2001-01-03","m":-7.74,"v":6.47},{"s":"2001-01-03","m":-7.38,"v":6.28},{"s":"2001-01-03","m":-7.01,"v":6.08},{"s":"2001-01-03","m":-6.65,"v":6.02},{"s":"2001-01-03","m":-6.28,"v":6.02},{"s":"2001-01-03","m":-5.91,"v":6.02},{"s":"2001-01-03","m":-5.55,"v":5.89},{"s":"2001-01-03","m":-5.18,"v":5.89},{"s":"2001-01-03","m":-4.82,"v":5.75},{"s":"2001-01-03","m":-4.45,"v":5.69},{"s":"2001-01-03","m":-4.09,"v":5.75},{"s":"2001-01-03","m":-3.72,"v":5.82},{"s":"2001-01-03","m":-3.35,"v":5.82},{"s":"2001-01-03","m":-2.99,"v":5.75},{"s":"2001-01-03","m":-2.62,"v":5.62},{"s":"2001-01-03","m":-2.26,"v":5.69},{"s":"2001-01-03","m":-1.89,"v":5.56},{"s":"2001-01-03","m":-1.52,"v":5.49},{"s":"2001-01-03","m":-1.16,"v":5.43},{"s":"2001-01-03","m":-0.79,"v":5.23},{"s":"2001-01-03","m":-0.43,"v":5.1},{"s":"2001-01-03","m":-0.18,"v":4.97},{"s":"2001-01-03","m":0,"v":4.97},{"s":"2001-01-03","m":0.18,"v":5.17},{"s":"2001-01-03","m":0.43,"v":5.23},{"s":"2001-01-03","m":0.67,"v":5.23},{"s":"2001-01-03","m":0.9,"v":5.1},{"s":"2001-01-03","m":1.16,"v":5.1},{"s":"2001-01-03","m":1.4,"v":5.17},{"s":"2001-01-03","m":1.65,"v":5.1},{"s":"2001-01-03","m":1.9,"v":4.97},{"s":"2001-01-03","m":2.26,"v":4.84},{"s":"2001-01-03","m":2.5,"v":4.78},{"s":"2001-01-03","m":2.74,"v":4.91},{"s":"2001-01-03","m":3.11,"v":5.04},{"s":"2001-01-03","m":3.48,"v":5.17},{"s":"2001-01-03","m":3.84,"v":5.23},{"s":"2001-01-03","m":4.08,"v":5.36},{"s":"2001-01-03","m":4.33,"v":5.43},{"s":"2001-01-03","m":4.57,"v":5.36},{"s":"2001-01-03","m":4.82,"v":5.49},{"s":"2001-01-03","m":5.18,"v":5.36},{"s":"2001-01-03","m":5.55,"v":5.23},{"s":"2001-01-03","m":5.9,"v":5.3},{"s":"2001-01-03","m":6.28,"v":5.36},{"s":"2001-01-03","m":6.65,"v":5.23},{"s":"2001-01-03","m":7.0,"v":5.1},{"s":"2001-01-03","m":7.38,"v":5.04},{"s":"2001-01-03","m":7.74,"v":4.97},{"s":"2001-01-03","m":8.11,"v":4.91},{"s":"2001-01-03","m":8.48,"v":4.84},{"s":"2001-01-03","m":8.84,"v":4.71},{"s":"2001-01-03","m":9.2,"v":4.65},{"s":"2001-01-03","m":9.57,"v":4.52},{"s":"2001-01-03","m":9.94,"v":4.65},{"s":"2001-01-03","m":10.18,"v":4.39},{"s":"2001-01-03","m":10.43,"v":4.26},{"s":"2001-01-03","m":10.6,"v":4.39},{"s":"2001-01-03","m":10.8,"v":4.71},{"s":"2001-01-03","m":11.04,"v":4.91},{"s":"2001-01-03","m":11.28,"v":5.1},{"s":"2001-01-03","m":11.46,"v":5.04},{"s":"2001-01-03","m":11.65,"v":5.17},{"s":"2001-01-03","m":11.83,"v":5.1},{"s":"2001-01-03","m":12,"v":5.1},
{"s":"2007-09-18","m":-12,"v":4.58},{"s":"2007-09-18","m":-11.77,"v":4.71},{"s":"2007-09-18","m":-11.4,"v":4.78},{"s":"2007-09-18","m":-11.04,"v":4.65},{"s":"2007-09-18","m":-10.67,"v":4.52},{"s":"2007-09-18","m":-10.3,"v":4.45},{"s":"2007-09-18","m":-9.94,"v":4.39},{"s":"2007-09-18","m":-9.57,"v":4.52},{"s":"2007-09-18","m":-9.2,"v":4.65},{"s":"2007-09-18","m":-8.84,"v":4.71},{"s":"2007-09-18","m":-8.47,"v":4.78},{"s":"2007-09-18","m":-8.11,"v":4.84},{"s":"2007-09-18","m":-7.87,"v":4.87},{"s":"2007-09-18","m":-7.5,"v":4.78},{"s":"2007-09-18","m":-7.13,"v":4.65},{"s":"2007-09-18","m":-6.77,"v":4.52},{"s":"2007-09-18","m":-6.4,"v":4.52},{"s":"2007-09-18","m":-6.04,"v":4.65},{"s":"2007-09-18","m":-5.67,"v":4.71},{"s":"2007-09-18","m":-5.3,"v":4.65},{"s":"2007-09-18","m":-4.94,"v":4.65},{"s":"2007-09-18","m":-4.57,"v":4.71},{"s":"2007-09-18","m":-4.21,"v":4.78},{"s":"2007-09-18","m":-3.84,"v":4.91},{"s":"2007-09-18","m":-3.54,"v":5.1},{"s":"2007-09-18","m":-3.35,"v":5.23},{"s":"2007-09-18","m":-2.99,"v":5.1},{"s":"2007-09-18","m":-2.62,"v":5.17},{"s":"2007-09-18","m":-2.26,"v":5.04},{"s":"2007-09-18","m":-1.89,"v":4.84},{"s":"2007-09-18","m":-1.52,"v":4.71},{"s":"2007-09-18","m":-1.16,"v":4.65},{"s":"2007-09-18","m":-0.79,"v":4.65},{"s":"2007-09-18","m":-0.43,"v":4.52},{"s":"2007-09-18","m":-0.18,"v":4.32},{"s":"2007-09-18","m":0,"v":4.45},{"s":"2007-09-18","m":0.3,"v":4.58},{"s":"2007-09-18","m":0.67,"v":4.65},{"s":"2007-09-18","m":1.04,"v":4.52},{"s":"2007-09-18","m":1.28,"v":4.39},{"s":"2007-09-18","m":1.65,"v":4.26},{"s":"2007-09-18","m":2.0,"v":4.19},{"s":"2007-09-18","m":2.26,"v":3.93},{"s":"2007-09-18","m":2.5,"v":4.06},{"s":"2007-09-18","m":2.87,"v":4.12},{"s":"2007-09-18","m":3.11,"v":4.06},{"s":"2007-09-18","m":3.35,"v":4.26},{"s":"2007-09-18","m":3.6,"v":4.06},{"s":"2007-09-18","m":3.96,"v":3.8},{"s":"2007-09-18","m":4.33,"v":3.6},{"s":"2007-09-18","m":4.7,"v":3.67},{"s":"2007-09-18","m":5.06,"v":3.73},{"s":"2007-09-18","m":5.43,"v":3.86},{"s":"2007-09-18","m":5.67,"v":3.67},{"s":"2007-09-18","m":5.9,"v":3.54},{"s":"2007-09-18","m":6.16,"v":3.41},{"s":"2007-09-18","m":6.4,"v":3.47},{"s":"2007-09-18","m":6.65,"v":3.54},{"s":"2007-09-18","m":7.0,"v":3.67},{"s":"2007-09-18","m":7.26,"v":3.86},{"s":"2007-09-18","m":7.5,"v":3.86},{"s":"2007-09-18","m":7.87,"v":3.8},{"s":"2007-09-18","m":8.23,"v":3.86},{"s":"2007-09-18","m":8.6,"v":3.99},{"s":"2007-09-18","m":8.96,"v":4.06},{"s":"2007-09-18","m":9.33,"v":4.19},{"s":"2007-09-18","m":9.7,"v":4.06},{"s":"2007-09-18","m":10.06,"v":3.93},{"s":"2007-09-18","m":10.43,"v":4.06},{"s":"2007-09-18","m":10.8,"v":3.99},{"s":"2007-09-18","m":11.16,"v":3.93},{"s":"2007-09-18","m":11.52,"v":3.8},{"s":"2007-09-18","m":11.77,"v":3.73},{"s":"2007-09-18","m":12,"v":3.67},
{"s":"2019-07-31","m":-12,"v":2.88},{"s":"2019-07-31","m":-11.64,"v":2.82},{"s":"2019-07-31","m":-11.16,"v":2.88},{"s":"2019-07-31","m":-10.5,"v":3.02},{"s":"2019-07-31","m":-10.05,"v":3.15},{"s":"2019-07-31","m":-9.57,"v":3.12},{"s":"2019-07-31","m":-9.1,"v":3.21},{"s":"2019-07-31","m":-8.6,"v":3.08},{"s":"2019-07-31","m":-8.13,"v":2.88},{"s":"2019-07-31","m":-7.66,"v":2.82},{"s":"2019-07-31","m":-7.18,"v":2.62},{"s":"2019-07-31","m":-6.7,"v":2.73},{"s":"2019-07-31","m":-6.22,"v":2.69},{"s":"2019-07-31","m":-5.74,"v":2.62},{"s":"2019-07-31","m":-5.26,"v":2.65},{"s":"2019-07-31","m":-4.78,"v":2.56},{"s":"2019-07-31","m":-4.3,"v":2.36},{"s":"2019-07-31","m":-3.83,"v":2.49},{"s":"2019-07-31","m":-3.35,"v":2.56},{"s":"2019-07-31","m":-2.87,"v":2.49},{"s":"2019-07-31","m":-2.39,"v":2.36},{"s":"2019-07-31","m":-1.91,"v":2.1},{"s":"2019-07-31","m":-1.44,"v":2.04},{"s":"2019-07-31","m":-0.96,"v":1.97},{"s":"2019-07-31","m":-0.48,"v":2.04},{"s":"2019-07-31","m":-0.08,"v":2.04},{"s":"2019-07-31","m":0,"v":1.95},{"s":"2019-07-31","m":0.16,"v":1.71},{"s":"2019-07-31","m":0.64,"v":1.65},{"s":"2019-07-31","m":1.12,"v":1.48},{"s":"2019-07-31","m":1.52,"v":1.78},{"s":"2019-07-31","m":1.91,"v":1.65},{"s":"2019-07-31","m":2.31,"v":1.52},{"s":"2019-07-31","m":2.71,"v":1.71},{"s":"2019-07-31","m":3.19,"v":1.78},{"s":"2019-07-31","m":3.51,"v":1.91},{"s":"2019-07-31","m":3.99,"v":1.78},{"s":"2019-07-31","m":4.47,"v":1.84},{"s":"2019-07-31","m":4.94,"v":1.91},{"s":"2019-07-31","m":5.42,"v":1.84},{"s":"2019-07-31","m":5.9,"v":1.78},{"s":"2019-07-31","m":6.38,"v":1.58},{"s":"2019-07-31","m":6.86,"v":1.52},{"s":"2019-07-31","m":7.18,"v":1.25},{"s":"2019-07-31","m":7.42,"v":0.93},{"s":"2019-07-31","m":7.58,"v":0.54},{"s":"2019-07-31","m":7.81,"v":0.86},{"s":"2019-07-31","m":7.97,"v":1.06},{"s":"2019-07-31","m":8.13,"v":0.73},{"s":"2019-07-31","m":8.45,"v":0.67},{"s":"2019-07-31","m":8.93,"v":0.6},{"s":"2019-07-31","m":9.41,"v":0.67},{"s":"2019-07-31","m":10.05,"v":0.67},{"s":"2019-07-31","m":10.53,"v":0.82},{"s":"2019-07-31","m":11.0,"v":0.67},{"s":"2019-07-31","m":11.64,"v":0.64},{"s":"2019-07-31","m":12,"v":0.6},
{"s":"2024-09-18*","m":-12,"v":4.71},{"s":"2024-09-18*","m":-11.83,"v":4.77},{"s":"2024-09-18*","m":-11.65,"v":4.65},{"s":"2024-09-18*","m":-11.4,"v":4.91},{"s":"2024-09-18*","m":-11.16,"v":4.84},{"s":"2024-09-18*","m":-10.79,"v":4.58},{"s":"2024-09-18*","m":-10.43,"v":4.45},{"s":"2024-09-18*","m":-10.06,"v":4.25},{"s":"2024-09-18*","m":-9.7,"v":4.06},{"s":"2024-09-18*","m":-9.39,"v":3.93},{"s":"2024-09-18*","m":-9.09,"v":3.86},{"s":"2024-09-18*","m":-8.84,"v":3.99},{"s":"2024-09-18*","m":-8.6,"v":3.99},{"s":"2024-09-18*","m":-8.35,"v":4.06},{"s":"2024-09-18*","m":-8.11,"v":3.99},{"s":"2024-09-18*","m":-7.87,"v":4.12},{"s":"2024-09-18*","m":-7.62,"v":4.19},{"s":"2024-09-18*","m":-7.38,"v":4.25},{"s":"2024-09-18*","m":-7.01,"v":4.25},{"s":"2024-09-18*","m":-6.65,"v":4.12},{"s":"2024-09-18*","m":-6.4,"v":4.25},{"s":"2024-09-18*","m":-6.04,"v":4.38},{"s":"2024-09-18*","m":-5.67,"v":4.45},{"s":"2024-09-18*","m":-5.3,"v":4.58},{"s":"2024-09-18*","m":-4.94,"v":4.58},{"s":"2024-09-18*","m":-4.57,"v":4.38},{"s":"2024-09-18*","m":-4.21,"v":4.45},{"s":"2024-09-18*","m":-3.84,"v":4.45},{"s":"2024-09-18*","m":-3.48,"v":4.32},{"s":"2024-09-18*","m":-3.11,"v":4.19},{"s":"2024-09-18*","m":-2.74,"v":4.32},{"s":"2024-09-18*","m":-2.38,"v":4.25},{"s":"2024-09-18*","m":-2.01,"v":4.12},{"s":"2024-09-18*","m":-1.77,"v":4.06},{"s":"2024-09-18*","m":-1.52,"v":3.8},{"s":"2024-09-18*","m":-1.28,"v":3.86},{"s":"2024-09-18*","m":-1.1,"v":3.8},{"s":"2024-09-18*","m":-0.91,"v":3.8},
{"s":"Average","m":-12,"v":8.0},{"s":"Average","m":-11.52,"v":8.04},{"s":"Average","m":-11.04,"v":8.04},{"s":"Average","m":-10.67,"v":7.91},{"s":"Average","m":-10.18,"v":7.91},{"s":"Average","m":-9.57,"v":7.91},{"s":"Average","m":-8.96,"v":7.97},{"s":"Average","m":-8.35,"v":8.1},{"s":"Average","m":-7.74,"v":8.23},{"s":"Average","m":-7.13,"v":8.36},{"s":"Average","m":-6.52,"v":8.43},{"s":"Average","m":-5.91,"v":8.49},{"s":"Average","m":-5.3,"v":8.43},{"s":"Average","m":-4.7,"v":8.43},{"s":"Average","m":-4.09,"v":8.49},{"s":"Average","m":-3.6,"v":8.56},{"s":"Average","m":-3.23,"v":8.69},{"s":"Average","m":-2.74,"v":8.62},{"s":"Average","m":-2.26,"v":8.62},{"s":"Average","m":-1.89,"v":8.49},{"s":"Average","m":-1.52,"v":8.3},{"s":"Average","m":-1.16,"v":8.17},{"s":"Average","m":-0.79,"v":8.04},{"s":"Average","m":-0.43,"v":7.91},{"s":"Average","m":0,"v":7.71},{"s":"Average","m":0.3,"v":7.52},{"s":"Average","m":0.79,"v":7.52},{"s":"Average","m":1.28,"v":7.58},{"s":"Average","m":1.77,"v":7.58},{"s":"Average","m":2.26,"v":7.65},{"s":"Average","m":2.74,"v":7.71},{"s":"Average","m":3.23,"v":7.78},{"s":"Average","m":3.48,"v":7.84},{"s":"Average","m":3.84,"v":7.71},{"s":"Average","m":4.33,"v":7.71},{"s":"Average","m":4.82,"v":7.78},{"s":"Average","m":5.3,"v":7.84},{"s":"Average","m":5.79,"v":7.78},{"s":"Average","m":6.28,"v":7.71},{"s":"Average","m":6.77,"v":7.65},{"s":"Average","m":7.13,"v":7.71},{"s":"Average","m":7.5,"v":7.84},{"s":"Average","m":7.87,"v":7.91},{"s":"Average","m":8.35,"v":8.04},{"s":"Average","m":8.72,"v":8.04},{"s":"Average","m":9.09,"v":7.97},{"s":"Average","m":9.57,"v":7.91},{"s":"Average","m":10.06,"v":7.91},{"s":"Average","m":10.55,"v":7.97},{"s":"Average","m":10.91,"v":7.97},{"s":"Average","m":11.28,"v":7.91},{"s":"Average","m":11.59,"v":7.91},{"s":"Average","m":11.83,"v":7.78},{"s":"Average","m":12,"v":7.71}
      ]},
      "mark": {"type": "line", "strokeCap": "butt", "strokeJoin": "round"},
      "encoding": {
        "x": {"field": "m", "type": "quantitative", "scale": {"domain": [-12.4, 12.25], "nice": false, "zero": false},
          "axis": {"orient": "bottom", "values": [-12,-11,-10,-9,-8,-7,-6,-5,-4,-3,-2,-1,0,1,2,3,4,5,6,7,8,9,10,11,12], "format": "d", "labelExpr": "replace(datum.label, '\u2212', '-')", "grid": false, "domainColor": "black", "domainWidth": 1.5, "tickColor": "black", "tickSize": -4, "labelPadding": 7, "labelFontSize": 10.5, "labelColor": "black", "title": "Months Prior | Months Post", "titleFontSize": 15, "titleFontWeight": "normal", "titleColor": "black", "titlePadding": 2}},
        "y": {"field": "v", "type": "quantitative", "scale": {"domain": [-1.18, 17.41], "nice": false, "zero": false},
          "axis": {"orient": "left", "title": null, "values": [-1,-0.5,0,0.5,1,1.5,2,2.5,3,3.5,4,4.5,5,5.5,6,6.5,7,7.5,8,8.5,9,9.5,10,10.5,11,11.5,12,12.5,13,13.5,14,14.5,15,15.5,16,16.5,17], "format": ".1f", "labelExpr": "replace(datum.label, '\u2212', '-')", "grid": false, "domainColor": "black", "domainWidth": 1.5, "tickColor": "black", "tickSize": -4, "labelPadding": 8, "labelFontSize": 10, "labelColor": "black"}},
        "color": {"field": "s", "type": "nominal", "title": null,
          "scale": {"domain": ["1970-11-13","1971-11-19","1974-12-09","1980-05-30","1981-11-02","1984-11-21","1989-06-06","1995-07-06","1998-09-29","2001-01-03","2007-09-18","2019-07-31","2024-09-18*","Average"],
                    "range": ["#1f2fe6","#ff1a1a","#1fa81f","#f9bd45","#ee1cee","#3ff2f2","#3cf03c","#bdbdbd","#ffb3bd","#ffc814","#2b3af0","#ff3030","#ff0000","#0010ff"]}},
        "strokeDash": {"field": "s", "type": "nominal", "title": null,
          "scale": {"domain": ["1970-11-13","1971-11-19","1974-12-09","1980-05-30","1981-11-02","1984-11-21","1989-06-06","1995-07-06","1998-09-29","2001-01-03","2007-09-18","2019-07-31","2024-09-18*","Average"],
                    "range": [[1,0],[1,0],[1,0],[1,0],[1,0],[1,0],[1,0],[1,0],[1,0],[1,0],[4,3],[4,3],[4,3],[1,0]]}},
        "strokeWidth": {"field": "s", "type": "nominal", "title": null,
          "scale": {"type": "ordinal", "domain": ["1970-11-13","1971-11-19","1974-12-09","1980-05-30","1981-11-02","1984-11-21","1989-06-06","1995-07-06","1998-09-29","2001-01-03","2007-09-18","2019-07-31","2024-09-18*","Average"],
                    "range": [1.3,1.3,1.3,1.3,1.3,1.3,1.3,1.3,1.3,1.3,1.4,1.3,2.8,3.2]}}
      }
    },
    {
      "data": {"values": [{}]},
      "mark": {"type": "rule", "color": "black", "strokeWidth": 1.2, "strokeDash": [5, 4]},
      "encoding": {"x": {"datum": 0, "type": "quantitative", "axis": null}}
    },
    {
      "data": {"values": [{}]},
      "mark": {"type": "text", "text": "*Assumes the Fed will cut rates on September 18, 2024,", "align": "left", "baseline": "middle", "fontSize": 10, "color": "black"},
      "encoding": {
        "x": {"datum": -11.96, "type": "quantitative", "axis": null},
        "y": {"datum": -0.08, "type": "quantitative", "axis": {"orient": "right", "title": null, "values": [-1,-0.5,0,0.5,1,1.5,2,2.5,3,3.5,4,4.5,5,5.5,6,6.5,7,7.5,8,8.5,9,9.5,10,10.5,11,11.5,12,12.5,13,13.5,14,14.5,15,15.5,16,16.5,17], "format": ".1f", "labelExpr": "replace(datum.label, '\u2212', '-')", "grid": false, "domainColor": "black", "domainWidth": 1.5, "tickColor": "black", "tickSize": -4, "labelPadding": 10, "labelFontSize": 10, "labelColor": "black"}}
      }
    },
    {
      "data": {"values": [{}]},
      "mark": {"type": "text", "text": "which does not contribute to average case.", "align": "left", "baseline": "middle", "fontSize": 10, "color": "black"},
      "encoding": {"x": {"datum": -11.96, "type": "quantitative", "axis": null}, "y": {"datum": -0.6, "type": "quantitative", "axis": null}}
    },
    {
      "data": {"values": [{}]},
      "mark": {"type": "text", "text": "Source:", "align": "right", "baseline": "middle", "fontSize": 9.5, "fontWeight": "bold", "fontStyle": "italic", "color": "black"},
      "encoding": {"x": {"datum": 7.95, "type": "quantitative", "axis": null}, "y": {"datum": -0.6, "type": "quantitative", "axis": null}}
    },
    {
      "data": {"values": [{}]},
      "mark": {"type": "text", "text": "Federal Reserve Board", "align": "right", "baseline": "middle", "fontSize": 9.5, "fontStyle": "italic", "color": "black"},
      "encoding": {"x": {"datum": 11.7, "type": "quantitative", "axis": null}, "y": {"datum": -0.6, "type": "quantitative", "axis": null}}
    },
    {
      "data": {"values": [{}]},
      "mark": {"type": "text", "text": "\u2190  First Rate Cut:", "align": "left", "baseline": "middle", "fontSize": 10, "color": "black"},
      "encoding": {"x": {"datum": 0.22, "type": "quantitative", "axis": null}, "y": {"datum": -0.95, "type": "quantitative", "axis": null}}
    },
    {
      "data": {"values": [{}]},
      "mark": {"type": "text", "text": "Buy the rumor, sell the news might work this cycle", "align": "left", "baseline": "middle", "fontSize": 25, "font": "Open Sans", "fontWeight": 600, "color": "#1e6e9b"},
      "encoding": {"x": {"datum": -13.79, "type": "quantitative", "axis": null}, "y": {"datum": 19.17, "type": "quantitative", "axis": null}}
    },
    {
      "data": {"values": [{}]},
      "mark": {"type": "text", "text": "10 Year Treasury Yield Around First Fed Rate Cuts", "align": "left", "baseline": "middle", "fontSize": 15, "color": "black"},
      "encoding": {"x": {"datum": -12.07, "type": "quantitative", "axis": null}, "y": {"datum": 17.92, "type": "quantitative", "axis": null}}
    },
    {
      "data": {"values": [{}]},
      "mark": {"type": "rect", "fillOpacity": 0, "stroke": "black", "strokeWidth": 1.5},
      "encoding": {"x": {"datum": -13.607, "type": "quantitative", "axis": null}, "x2": {"datum": 13.42}, "y": {"datum": 18.465, "type": "quantitative", "axis": null}, "y2": {"datum": -2.395}}
    },
    {
      "data": {"values": [{}]},
      "mark": {"type": "rect", "fillOpacity": 0, "stroke": "black", "strokeWidth": 3},
      "encoding": {"x": {"datum": -14.028, "type": "quantitative", "axis": null}, "x2": {"datum": 13.548}, "y": {"datum": 19.89, "type": "quantitative", "axis": null}, "y2": {"datum": -3.625}}
    },
    {
      "data": {"values": [{}]},
      "mark": {"type": "text", "text": "\u00a9 Copyright 2024 NDR, Inc. Further distribution prohibited without prior permission.", "align": "right", "baseline": "middle", "fontSize": 8, "color": "black"},
      "encoding": {"x": {"datum": 13.42, "type": "quantitative", "axis": null}, "y": {"datum": -2.59, "type": "quantitative", "axis": null}}
    },
    {
      "data": {"values": [{}]},
      "mark": {"type": "text", "text": "All Rights Reserved. See NDR Disclaimer at", "align": "right", "baseline": "middle", "fontSize": 8, "color": "black"},
      "encoding": {"x": {"datum": 9.653, "type": "quantitative", "axis": null}, "y": {"datum": -3.02, "type": "quantitative", "axis": null}}
    },
    {
      "data": {"values": [{}]},
      "mark": {"type": "text", "text": "www.ndr.com/copyright.html", "align": "right", "baseline": "middle", "fontSize": 8, "color": "#2233cc"},
      "encoding": {"x": {"datum": 13.42, "type": "quantitative", "axis": null}, "y": {"datum": -3.02, "type": "quantitative", "axis": null}}
    },
    {
      "data": {"values": [{}]},
      "mark": {"type": "text", "text": "For data vendor disclaimers refer to", "align": "right", "baseline": "middle", "fontSize": 8, "color": "black"},
      "encoding": {"x": {"datum": 10.026, "type": "quantitative", "axis": null}, "y": {"datum": -3.45, "type": "quantitative", "axis": null}}
    },
    {
      "data": {"values": [{}]},
      "mark": {"type": "text", "text": "www.ndr.com/vendorinfo/", "align": "right", "baseline": "middle", "fontSize": 8, "color": "#2233cc"},
      "encoding": {"x": {"datum": 13.42, "type": "quantitative", "axis": null}, "y": {"datum": -3.45, "type": "quantitative", "axis": null}}
    },
    {
      "data": {"values": [{}]},
      "mark": {"type": "text", "text": "BS98P", "align": "left", "baseline": "middle", "fontSize": 7.5, "fontWeight": "bold", "color": "#2233cc"},
      "encoding": {"x": {"datum": -13.35, "type": "quantitative", "axis": null}, "y": {"datum": -2.71, "type": "quantitative", "axis": null}}
    },
    {
      "data": {"values": [{}]},
      "mark": {"type": "rule", "color": "#2233cc", "strokeWidth": 0.8},
      "encoding": {"x": {"datum": -13.35, "type": "quantitative", "axis": null}, "x2": {"datum": -12.42}, "y": {"datum": -2.88, "type": "quantitative", "axis": null}}
    },
    {
      "data": {"values": [{}]},
      "mark": {"type": "text", "text": "NDR", "align": "left", "baseline": "middle", "fontSize": 20, "fontWeight": "bold", "font": "Liberation Sans", "color": "#f7941d"},
      "encoding": {"x": {"datum": 0.75, "type": "quantitative", "axis": null}, "y": {"datum": -3.1, "type": "quantitative", "axis": null}}
    }
  ]
}
